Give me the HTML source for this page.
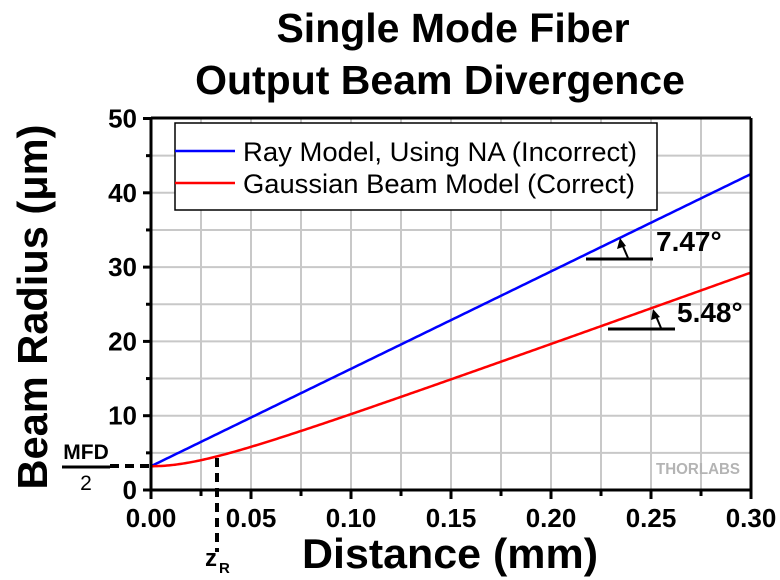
<!DOCTYPE html>
<html><head><meta charset="utf-8"><style>body{margin:0;background:#fff}svg{display:block}text{font-family:"Liberation Sans",Arial,sans-serif}</style></head>
<body>
<svg id="s" width="780" height="580" viewBox="0 0 780 580" xmlns="http://www.w3.org/2000/svg">
<text x="453" y="42" font-size="41" font-weight="bold" text-anchor="middle">Single Mode Fiber</text>
<text x="440" y="94" font-size="41" font-weight="bold" text-anchor="middle">Output Beam Divergence</text>
<g id="grid" stroke="#c8c8c8" stroke-width="2"></g>
<text x="698" y="474" font-size="16" font-weight="bold" fill="#b4b4b4" text-anchor="middle" textLength="84" lengthAdjust="spacingAndGlyphs">THORLABS</text>
<rect x="175" y="123" width="482" height="87" fill="#fff" stroke="#000" stroke-width="1.5"/>
<line x1="175" y1="151" x2="235" y2="151" stroke="#00f" stroke-width="2.5"/>
<line x1="175" y1="183" x2="235" y2="183" stroke="#f00" stroke-width="2.5"/>
<text x="243" y="161" font-size="27" textLength="394" lengthAdjust="spacingAndGlyphs">Ray Model, Using NA (Incorrect)</text>
<text x="243" y="193" font-size="27" textLength="392" lengthAdjust="spacingAndGlyphs">Gaussian Beam Model (Correct)</text>
<path id="blue" fill="none" stroke="#00f" stroke-width="2.5"/>
<path id="red" fill="none" stroke="#f00" stroke-width="2.5"/>
<g stroke="#000" stroke-width="3" fill="none">
<line x1="151" y1="118" x2="751" y2="118"/>
<line x1="151" y1="118" x2="151" y2="490"/>
<line x1="751" y1="118" x2="751" y2="490"/>
<line x1="151" y1="490" x2="751" y2="490"/>
</g>
<g id="ticks" stroke="#000" stroke-width="3"></g>
<g font-size="26" font-weight="bold" id="lab"></g>
<g stroke="#000" stroke-width="4" stroke-dasharray="9,6">
<line x1="217" y1="458" x2="217" y2="552"/>
<line x1="110" y1="466" x2="150" y2="466"/>
</g>
<line x1="62" y1="467" x2="110" y2="467" stroke="#000" stroke-width="3"/>
<text x="86" y="459" font-size="21" font-weight="bold" text-anchor="middle">MFD</text>
<text x="86" y="490" font-size="21" text-anchor="middle">2</text>
<text x="205" y="566" font-size="24" font-weight="bold">z</text>
<text x="219" y="573" font-size="15" font-weight="bold">R</text>
<text x="450" y="568" font-size="42" font-weight="bold" text-anchor="middle" textLength="296" lengthAdjust="spacingAndGlyphs">Distance (mm)</text>
<text transform="translate(47,307) rotate(-90)" font-size="42" font-weight="bold" text-anchor="middle" textLength="365" lengthAdjust="spacingAndGlyphs">Beam Radius (μm)</text>
<g stroke="#000" stroke-width="3"><line x1="586" y1="259" x2="653" y2="259"/><line x1="608" y1="329" x2="675" y2="329"/>
<line x1="628" y1="258" x2="622" y2="244" stroke-width="2"/><line x1="661" y1="328" x2="656" y2="316" stroke-width="2"/></g>
<polygon points="620,238 617,249 626,246" fill="#000"/>
<polygon points="653,309 651,320 660,317" fill="#000"/>
<text x="656" y="251" font-size="28" font-weight="bold">7.47°</text>
<text x="677" y="322" font-size="28" font-weight="bold">5.48°</text>
<script>
var X=z=>151+z*2000, Y=v=>490-v*7.43, ns="http://www.w3.org/2000/svg";
var g=document.getElementById('grid');
for(var i=1;i<12;i++){var l=document.createElementNS(ns,'line');l.setAttribute('x1',151+i*50);l.setAttribute('x2',151+i*50);l.setAttribute('y1',118);l.setAttribute('y2',490);g.appendChild(l);}
for(var i=1;i<10;i++){var y=490-i*37.15;var l=document.createElementNS(ns,'line');l.setAttribute('x1',151);l.setAttribute('x2',751);l.setAttribute('y1',y);l.setAttribute('y2',y);g.appendChild(l);}
var t=document.getElementById('ticks'),lab=document.getElementById('lab');
for(var i=0;i<=12;i++){var x=151+i*50,l=document.createElementNS(ns,'line');l.setAttribute('x1',x);l.setAttribute('x2',x);l.setAttribute('y1',490);l.setAttribute('y2',i%2?496:499);t.appendChild(l);
if(i%2==0){var s=document.createElementNS(ns,'text');s.setAttribute('x',x);s.setAttribute('y',527);s.setAttribute('text-anchor','middle');s.textContent=(i*0.025).toFixed(2);lab.appendChild(s);}}
for(var i=0;i<=10;i++){var y=490-i*37.15,l=document.createElementNS(ns,'line');l.setAttribute('y1',y);l.setAttribute('y2',y);l.setAttribute('x1',151);l.setAttribute('x2',i%2?146:143);t.appendChild(l);
if(i%2==0){var s=document.createElementNS(ns,'text');s.setAttribute('x',137);s.setAttribute('y',y+9);s.setAttribute('text-anchor','end');s.textContent=i*5;lab.appendChild(s);}}
var b="",r="";for(var k=0;k<=300;k++){var z=k*0.001;b+=(k?"L":"M")+X(z)+","+Y(3.2+z*131.1);r+=(k?"L":"M")+X(z)+","+Y(3.2*Math.sqrt(1+Math.pow(z/0.033,2)));}
document.getElementById('blue').setAttribute('d',b);document.getElementById('red').setAttribute('d',r);
</script>
</svg>
</body></html>
